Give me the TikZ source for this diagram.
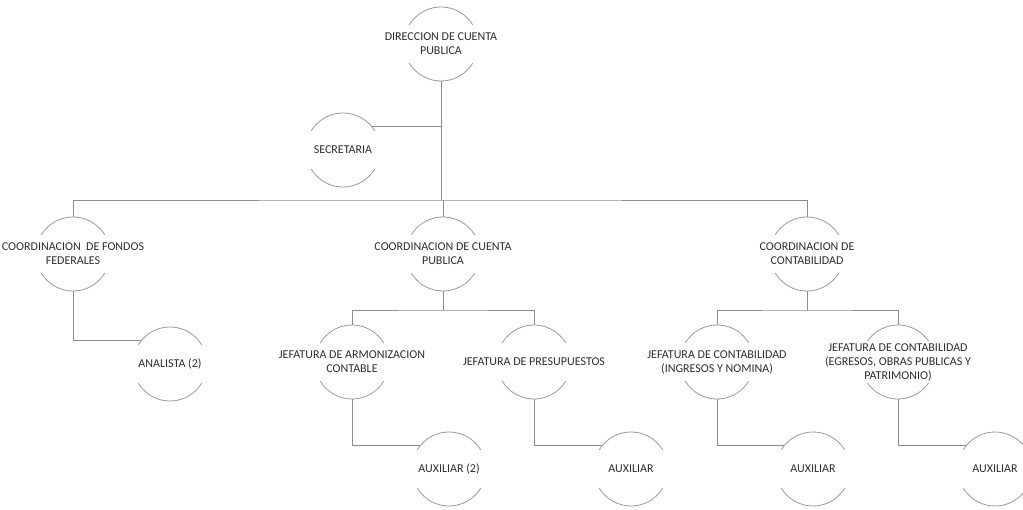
\documentclass[tikz,border=0pt]{standalone}
\usepackage{fontspec}
\setmainfont{Carlito}
\usepackage{xcolor}
\definecolor{linegray}{HTML}{8C8C8C}
\definecolor{arcgray}{HTML}{9A9A9A}
\definecolor{txtgray}{HTML}{2E2E2E}

\begin{document}
\begin{tikzpicture}[x=1pt,y=-1pt,
    unit/.style={circle, draw=arcgray, line width=0.8pt, minimum size=74pt, inner sep=0pt},
    lbl/.style={fill=white, align=center, inner sep=2pt, minimum width=78pt, minimum height=38pt,
        text=txtgray, font=\fontsize{12}{14}\selectfont},
    link/.style={draw=linegray, line width=0.9pt}
    ]
\useasboundingbox (0,0) rectangle (1023,510);

% circles
\node[unit] (dir) at (441,44) {};
\node[unit] (sec) at (343,150) {};
\node[unit] (fon) at (73,254) {};
\node[unit] (ccp) at (443,254) {};
\node[unit] (ccon) at (807,254) {};
\node[unit] (ana) at (170,364) {};
\node[unit] (arm) at (352,362) {};
\node[unit] (pre) at (534,362) {};
\node[unit] (ing) at (717,362) {};
\node[unit] (egr) at (898,362) {};
\node[unit] (aux1) at (449,469) {};
\node[unit] (aux2) at (631,469) {};
\node[unit] (aux3) at (813,469) {};
\node[unit] (aux4) at (995,469) {};

% connectors
\coordinate (bar) at (441,200);
\coordinate (barccp) at (443,310);
\coordinate (barccon) at (807,310);

\draw[link] (dir.south) -- (bar);
\draw[link] (sec.40) -- (sec.40 -| dir.south);
\draw[link] (fon.north) |- (bar) -| (ccon.north);
\draw[link] (ccp.north) -- (ccp.north |- bar);

\draw[link] (ccp.south) -- (barccp);
\draw[link] (arm.north) |- (barccp) -| (pre.north);
\draw[link] (ccon.south) -- (barccon);
\draw[link] (ing.north) |- (barccon) -| (egr.north);

\draw[link] (fon.south) |- (ana.140);
\draw[link] (arm.south) |- (aux1.140);
\draw[link] (pre.south) |- (aux2.140);
\draw[link] (ing.south) |- (aux3.140);
\draw[link] (egr.south) |- (aux4.140);

% labels
\node[lbl] (dir-t) at (dir) {DIRECCION DE CUENTA\\PUBLICA};
\node[lbl] (sec-t) at (sec) {SECRETARIA};
\node[lbl] (fon-t) at (fon) {COORDINACION\ \ DE FONDOS\\FEDERALES};
\node[lbl] (ccp-t) at (ccp) {COORDINACION DE CUENTA\\PUBLICA};
\node[lbl] (ccon-t) at (ccon) {COORDINACION DE\\CONTABILIDAD};
\node[lbl] (ana-t) at (ana) {ANALISTA (2)};
\node[lbl] (arm-t) at (arm) {JEFATURA DE ARMONIZACION\\CONTABLE};
\node[lbl] (pre-t) at (pre) {JEFATURA DE PRESUPUESTOS};
\node[lbl] (ing-t) at (ing) {JEFATURA DE CONTABILIDAD\\(INGRESOS Y NOMINA)};
\node[lbl] (egr-t) at (egr) {JEFATURA DE CONTABILIDAD\\(EGRESOS, OBRAS PUBLICAS Y\\PATRIMONIO)};
\node[lbl] (aux1-t) at (aux1) {AUXILIAR (2)};
\node[lbl] (aux2-t) at (aux2) {AUXILIAR};
\node[lbl] (aux3-t) at (aux3) {AUXILIAR};
\node[lbl] (aux4-t) at (aux4) {AUXILIAR};

\end{tikzpicture}
\end{document}
